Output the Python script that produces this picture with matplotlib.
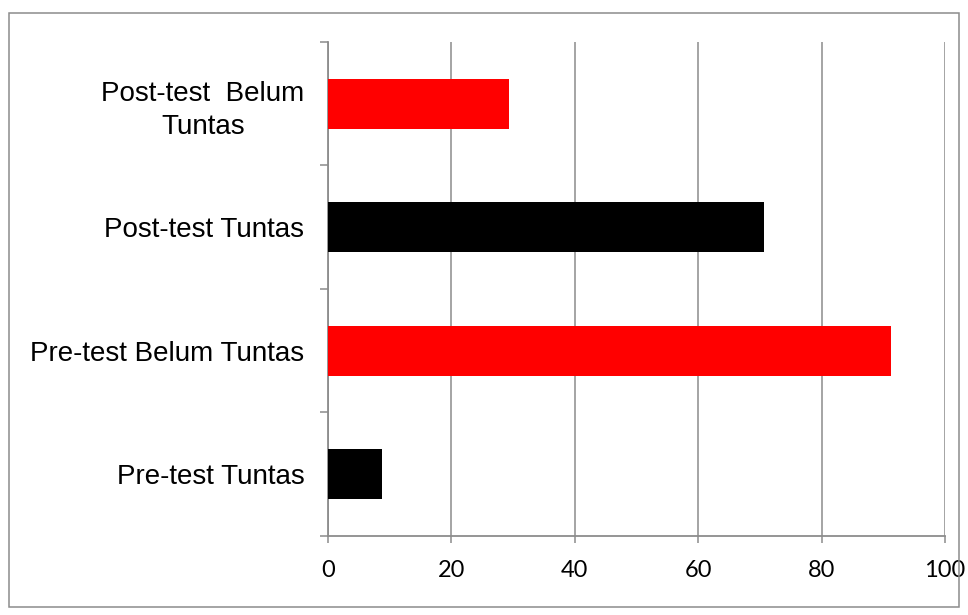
import matplotlib.pyplot as plt
from matplotlib.patches import Rectangle

categories = ['Pre-test Tuntas', 'Pre-test Belum Tuntas', 'Post-test Tuntas', 'Post-test  Belum\nTuntas']
values = [8.8, 91.2, 70.6, 29.4]
colors = ['#000000', '#ff0000', '#000000', '#ff0000']
xticks = [0, 20, 40, 60, 80, 100]

grey = '#8c8c8c'

fig = plt.figure(figsize=(9.68, 6.15), dpi=100)
ax = fig.add_axes([0.3388, 0.1285, 0.6374, 0.8032])

pos = list(range(len(categories)))
ax.barh(pos, values, height=0.405, color=colors, zorder=3)

ax.set_xlim(0, 100)
ax.set_ylim(-0.5, len(categories) - 0.5)

ax.set_xticks(xticks)
ax.set_xticklabels([str(t) for t in xticks], fontfamily='Lato', fontsize=17)
ax.tick_params(axis='x', length=5, width=1.1, color=grey, pad=12)

ax.set_yticks(pos)
ax.set_yticklabels(categories, fontfamily='Liberation Sans', fontsize=20)
for lbl in ax.get_yticklabels():
    lbl.set_multialignment('center')
    lbl.set_linespacing(1.35)
ax.tick_params(axis='y', which='major', length=0, pad=17)
ax.set_yticks([p - 0.5 for p in pos] + [len(categories) - 0.5], minor=True)
ax.tick_params(axis='y', which='minor', length=6, width=1.1, color=grey)

ax.grid(axis='x', color=grey, linewidth=1.1, zorder=0)
ax.set_axisbelow(True)
for side in ['top', 'right']:
    ax.spines[side].set_visible(False)
for side in ['left', 'bottom']:
    ax.spines[side].set_color(grey)
    ax.spines[side].set_linewidth(1.3)

# outer frame of the chart area
fig.patches.append(Rectangle((9 / 968, 8 / 615), 950 / 968, 594 / 615,
                             transform=fig.transFigure, fill=False,
                             edgecolor=grey, linewidth=1.1))

fig.savefig('out.png', dpi=100)
